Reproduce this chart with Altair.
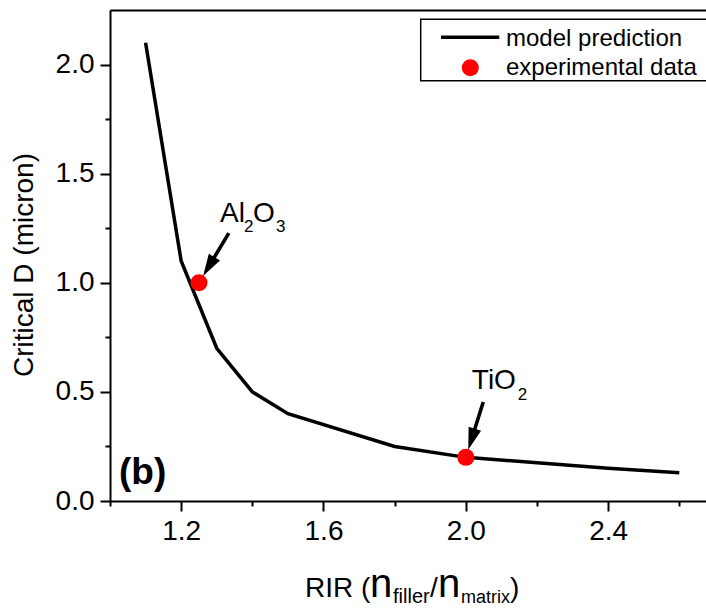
import json
import altair as alt
import pandas as pd

# ---------------- data ----------------
rir_model = [1.1, 1.2, 1.3, 1.4, 1.5, 1.8, 2.0, 2.4, 2.6]
d_model = [2.1, 1.1, 0.7, 0.5, 0.4, 0.25, 0.2, 0.15, 0.13]

rir_exp = [1.25, 2.0]
d_exp = [1.0, 0.2]

x_major = [1.2, 1.6, 2.0, 2.4]
x_minor = [1.0, 1.4, 1.8, 2.2, 2.6]
y_major = [0.0, 0.5, 1.0, 1.5, 2.0]
y_minor = [0.25, 0.75, 1.25, 1.75]

legend_labels = ["model prediction", "experimental data"]
panel_label = "(b)"
y_title = "Critical D (micron)"
x_title_parts = ["RIR (", "n", "filler", "/", "n", "matrix", ")"]
al_parts = ["Al", "2", "O", "3"]
ti_parts = ["TiO", "2"]

FONT = "Liberation Sans"

model_df = pd.DataFrame({"rir": rir_model, "d": d_model})
exp_df = pd.DataFrame({"rir": rir_exp, "d": d_exp})
one = pd.DataFrame({"k": [0]})

xscale = alt.Scale(domain=[1.0, 2.675], nice=False, zero=False)
yscale = alt.Scale(domain=[0.0, 2.25], nice=False, zero=False)

xmaj = json.dumps(x_major)
ymaj = json.dumps(y_major)

x_axis = alt.Axis(
    values=sorted(x_major + x_minor),
    labelExpr=f"indexof({xmaj}, datum.value) >= 0 ? format(datum.value, '.1f') : ''",
    tickSize={"condition": {"test": f"indexof({xmaj}, datum.value) >= 0", "value": 10}, "value": 5},
    tickWidth=2, tickColor="black", domainWidth=2, domainColor="black",
    labelFont=FONT, labelFontSize=28, labelColor="black", labelPadding=6,
    labelOverlap=False, labelFlush=False, grid=False, title=None,
)
x_top_axis = alt.Axis(
    orient="top", labels=False, ticks=False, domainWidth=2, domainColor="black",
    grid=False, title=None,
)
y_axis = alt.Axis(
    values=sorted(y_major + y_minor),
    labelExpr=f"indexof({ymaj}, datum.value) >= 0 ? format(datum.value, '.1f') : ''",
    tickSize={"condition": {"test": f"indexof({ymaj}, datum.value) >= 0", "value": 10}, "value": 5},
    tickWidth=2, tickColor="black", domainWidth=2, domainColor="black",
    labelFont=FONT, labelFontSize=28, labelColor="black", labelPadding=6,
    labelOverlap=False, labelFlush=False, grid=False, title=None,
)


def Y():
    return alt.Y("d:Q", scale=yscale, axis=y_axis)


line = alt.Chart(model_df).mark_line(color="black", strokeWidth=3.5).encode(
    x=alt.X("rir:Q", scale=xscale, axis=x_axis),
    y=Y(),
)

points = alt.Chart(exp_df).mark_circle(color="#ff0000", size=290, opacity=1).encode(
    x=alt.X("rir:Q", scale=xscale, axis=x_top_axis),
    y=Y(),
)

# arrows: a custom path in pixel units (size=4 -> scale 1), tip just above the point
ARROW = "M0,-8 L-6.5,-30 L-1.8,-30 L-1.8,-58 L1.8,-58 L1.8,-30 L6.5,-30 Z"


def arrow(i, angle):
    return alt.Chart(exp_df.iloc[[i]]).mark_point(
        shape=ARROW, size=4, filled=True, color="black", opacity=1, angle=angle
    ).encode(
        x=alt.X("rir:Q", scale=xscale, axis=None),
        y=Y(),
    )


def label(i, text, dx, dy, size):
    return alt.Chart(exp_df.iloc[[i]]).mark_text(
        text=text, dx=dx, dy=dy, fontSize=size, font=FONT, align="left",
        baseline="alphabetic", color="black",
    ).encode(
        x=alt.X("rir:Q", scale=xscale, axis=None),
        y=Y(),
    )


annots = [
    arrow(0, 31), arrow(1, 17.5),
    label(0, al_parts[0], 21, -60.5, 28),
    label(0, al_parts[1], 45, -50.5, 17),
    label(0, al_parts[2], 54, -60.5, 28),
    label(0, al_parts[3], 77, -50.5, 17),
    label(1, ti_parts[0], 6, -68, 28),
    label(1, ti_parts[1], 52, -57, 17),
]


def ptext(text, x, y, size, weight="normal", angle=0, align="left"):
    return alt.Chart(one).mark_text(
        text=text, fontSize=size, font=FONT, fontWeight=weight, align=align,
        baseline="alphabetic", color="black", angle=angle,
    ).encode(x=alt.value(x), y=alt.value(y))


panel = ptext(panel_label, 9, 474, 37, weight="bold")
ytitle = ptext(y_title, -77, 255, 28, angle=270, align="center")

xt = [
    ptext(x_title_parts[0], 195, 586.7, 28),
    ptext(x_title_parts[1], 260, 586.7, 40),
    ptext(x_title_parts[2], 283, 593.3, 20),
    ptext(x_title_parts[3], 320, 586.7, 28),
    ptext(x_title_parts[4], 328, 586.7, 40),
    ptext(x_title_parts[5], 351, 593.3, 18),
    ptext(x_title_parts[6], 400, 586.7, 28),
]

# legend
leg_box = alt.Chart(one).mark_rect(fill="white", stroke="black", strokeWidth=1.5).encode(
    x=alt.value(310.7), x2=alt.value(620), y=alt.value(9.3), y2=alt.value(70.7)
)
leg_line = alt.Chart(one).mark_rule(color="black", strokeWidth=3.5).encode(
    x=alt.value(331), x2=alt.value(389.3), y=alt.value(27.3), y2=alt.value(27.3)
)
leg_dot = alt.Chart(one).mark_circle(color="#ff0000", size=290, opacity=1).encode(
    x=alt.value(360.3), y=alt.value(57.7)
)
leg_t1 = ptext(legend_labels[0], 396, 35.7, 24)
leg_t2 = ptext(legend_labels[1], 396, 65, 24)

chart = alt.layer(
    line, points, *annots, panel, ytitle, *xt, leg_box, leg_line, leg_dot, leg_t1, leg_t2
).resolve_axis(x="independent").properties(
    width=596, height=491, autosize="none",
    padding={"left": 110, "top": 10, "right": 0, "bottom": 111},
).configure_view(stroke=None).configure(background="white")

chart.save("out.html", embed_options={"renderer": "svg", "actions": False})
